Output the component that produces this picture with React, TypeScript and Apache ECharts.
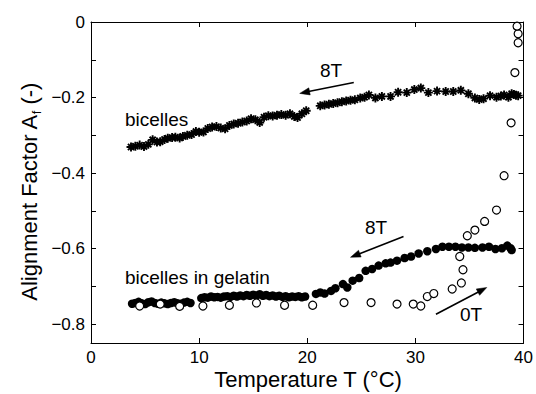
import React, { useEffect, useRef } from "react";
import * as echarts from "echarts";

// ---- data ----
const starsT = [3.7, 4.1, 4.5, 4.9, 5.3, 5.7, 6.1, 6.4, 6.8, 7.1, 7.5, 7.8, 8.2, 8.5, 8.9, 9.3, 9.7, 10.0, 10.4, 10.8, 11.2, 11.6, 12.0, 12.4, 12.8, 13.2, 13.6, 14.0, 14.4, 14.8, 15.2, 15.6, 16.0, 16.4, 16.8, 17.2, 17.6, 18.0, 18.4, 18.8, 19.1, 19.5, 19.9, 21.2, 21.6, 22.0, 22.4, 22.8, 23.2, 23.6, 24.0, 24.4, 24.9, 25.3, 25.7, 26.3, 26.9, 27.7, 28.4, 29.2, 29.9, 30.5, 31.2, 32.0, 32.8, 33.5, 34.2, 34.9, 35.5, 35.9, 36.3, 36.9, 37.5, 37.9, 38.2, 38.6, 38.9, 39.1, 39.3, 39.5];
const starsA = [-0.331, -0.329, -0.326, -0.330, -0.324, -0.312, -0.318, -0.317, -0.311, -0.308, -0.306, -0.305, -0.307, -0.303, -0.300, -0.298, -0.290, -0.292, -0.291, -0.282, -0.278, -0.277, -0.281, -0.283, -0.274, -0.270, -0.268, -0.265, -0.262, -0.256, -0.259, -0.266, -0.252, -0.248, -0.249, -0.247, -0.245, -0.247, -0.243, -0.250, -0.253, -0.243, -0.235, -0.222, -0.220, -0.218, -0.216, -0.214, -0.211, -0.209, -0.207, -0.206, -0.201, -0.199, -0.193, -0.201, -0.197, -0.197, -0.186, -0.187, -0.179, -0.175, -0.187, -0.183, -0.184, -0.184, -0.181, -0.190, -0.201, -0.205, -0.203, -0.195, -0.199, -0.196, -0.193, -0.199, -0.190, -0.192, -0.194, -0.195];

const gel8T_T = [3.8, 4.1, 4.4, 4.7, 5.0, 5.3, 5.6, 5.9, 6.2, 6.5, 6.8, 7.1, 7.4, 7.7, 8.0, 8.3, 8.6, 8.9, 9.2,
  10.2, 10.5, 10.8, 11.1, 11.4, 11.7, 12.0, 12.3, 12.6, 12.9, 13.2, 13.5, 13.8, 14.1, 14.4, 14.7, 15.0, 15.3, 15.6, 15.9, 16.2, 16.5, 16.8, 17.1, 17.4, 17.7, 18.0, 18.3, 18.6, 18.9, 19.2, 19.5, 19.8,
  20.8, 21.2, 21.6, 22.2, 22.6, 23.3, 23.7, 24.2, 24.8, 25.4, 26.0, 26.6, 27.25, 27.7, 28.3, 29.0, 29.6, 30.3, 31.1, 31.9, 32.5, 33.1, 33.7, 34.3, 34.9, 35.5, 36.2, 36.8, 37.4, 38.0, 38.5, 38.8, 38.9];
const gel8T_A = [-0.746, -0.744, -0.741, -0.745, -0.747, -0.742, -0.740, -0.744, -0.746, -0.743, -0.745, -0.747, -0.744, -0.742, -0.745, -0.746, -0.743, -0.741, -0.744,
  -0.731, -0.729, -0.730, -0.727, -0.729, -0.728, -0.730, -0.727, -0.726, -0.728, -0.725, -0.727, -0.724, -0.726, -0.723, -0.725, -0.722, -0.724, -0.721, -0.725, -0.723, -0.726, -0.724, -0.727, -0.725, -0.728, -0.726, -0.729, -0.727, -0.728, -0.726, -0.729, -0.727,
  -0.720, -0.716, -0.719, -0.712, -0.705, -0.694, -0.703, -0.685, -0.678, -0.659, -0.654, -0.645, -0.639, -0.637, -0.632, -0.625, -0.621, -0.613, -0.607, -0.601, -0.595, -0.595, -0.595, -0.597, -0.597, -0.598, -0.597, -0.595, -0.601, -0.599, -0.592, -0.599, -0.604];

const gel0T_T = [4.5, 6.4, 8.2, 10.35, 12.8, 15.3, 17.9, 20.5, 23.4, 25.9, 28.3, 29.8, 30.5, 31.1, 31.7, 33.4, 34.25, 34.4, 34.1, 34.8, 35.5, 36.4, 37.5, 38.2, 38.85, 39.2, 39.5, 39.5, 39.4];
const gel0T_A = [-0.752, -0.747, -0.753, -0.752, -0.750, -0.744, -0.750, -0.750, -0.743, -0.743, -0.747, -0.747, -0.752, -0.727, -0.719, -0.707, -0.691, -0.656, -0.621, -0.566, -0.551, -0.528, -0.498, -0.407, -0.267, -0.134, -0.055, -0.031, -0.011];

const xTicks = [0, 10, 20, 30, 40];
const yLabelValues = [-0.8, -0.6, -0.4, -0.2, 0];
const yTickValues = [-0.8, -0.7, -0.6, -0.5, -0.4, -0.3, -0.2, -0.1, 0];

// arrows (data coords): [startT, startA, tipT, tipA]
const arrows = [
  [24.3, -0.160, 19.3, -0.189],
  [28.9, -0.568, 24.0, -0.623],
  [31.9, -0.774, 36.6, -0.703],
];

const FONT = "'Liberation Sans', Arial, Helvetica, sans-serif";

const zip = (xs: number[], ys: number[]) => xs.map((x, i) => [x, ys[i]]);

const asterisk = "path://M5 0 L5 10 M0 5 L10 5 M1.6 1.6 L8.4 8.4 M1.6 8.4 L8.4 1.6";

export default function App() {
  const ref = useRef<HTMLDivElement>(null);
  useEffect(() => {
    const chart = echarts.init(ref.current!, null, { renderer: "svg" });
    const axisCommon = {
      axisLine: { show: true, onZero: false, lineStyle: { color: "#000", width: 1 } },
      splitLine: { show: false },
    };
    const option: any = {
      animation: false,
      backgroundColor: "#fff",
      grid: { left: 91, right: 11, top: 22, bottom: 51, containLabel: false },
      xAxis: [
        {
          type: "value", min: 0, max: 40, interval: 10, position: "bottom",
          ...axisCommon,
          axisTick: { inside: true, length: 5, lineStyle: { color: "#000" } },
          axisLabel: { color: "#000", fontSize: 17, fontFamily: FONT, margin: 6, customValues: xTicks },
        },
        {
          type: "value", min: 0, max: 40, interval: 10, position: "top",
          ...axisCommon,
          axisTick: { inside: true, length: 5, lineStyle: { color: "#000" } },
          axisLabel: { show: false },
        },
      ],
      yAxis: [
        {
          type: "value", min: -0.85, max: 0, position: "left",
          ...axisCommon,
          axisTick: { inside: true, length: 5, customValues: yTickValues, lineStyle: { color: "#000" } },
          axisLabel: {
            color: "#000", fontSize: 17, fontFamily: FONT, margin: 6, customValues: yLabelValues,
            formatter: (v: number) => (Math.abs(v) < 1e-9 ? "0" : v.toFixed(1).replace("-", "\u2212")),
          },
        },
        {
          type: "value", min: -0.85, max: 0, position: "right",
          ...axisCommon,
          axisTick: { inside: true, length: 5, customValues: yTickValues, lineStyle: { color: "#000" } },
          axisLabel: { show: false },
        },
      ],
      series: [
        {
          name: "bicelles 8T", type: "scatter", xAxisIndex: 0, yAxisIndex: 0,
          data: zip(starsT, starsA), symbol: asterisk, symbolSize: 9,
          itemStyle: { color: "#000", borderColor: "#000", borderWidth: 1.9, opacity: 1 },
        },
        {
          name: "gelatin 8T", type: "scatter", xAxisIndex: 0, yAxisIndex: 0,
          data: zip(gel8T_T, gel8T_A), symbol: "circle", symbolSize: 8.5,
          itemStyle: { color: "#000", opacity: 1 },
        },
        {
          name: "gelatin 0T", type: "scatter", xAxisIndex: 0, yAxisIndex: 0,
          data: zip(gel0T_T, gel0T_A), symbol: "circle", symbolSize: 8,
          itemStyle: { color: "#fff", borderColor: "#000", borderWidth: 1.2, opacity: 1 },
        },
      ],
    };
    chart.setOption(option);

    const textEl = (x: number, y: number, text: string, align = "center", size = 19) => ({
      type: "text", x, y,
      style: { text, font: `${size}px ${FONT}`, fill: "#000", textAlign: align, textVerticalAlign: "middle" },
    });

    const arrowEls: any[] = [];
    arrows.forEach((a) => {
      const p0 = chart.convertToPixel({ xAxisIndex: 0, yAxisIndex: 0 }, [a[0], a[1]]) as number[];
      const p1 = chart.convertToPixel({ xAxisIndex: 0, yAxisIndex: 0 }, [a[2], a[3]]) as number[];
      const dx = p1[0] - p0[0];
      const dy = p1[1] - p0[1];
      const len = Math.hypot(dx, dy);
      const ux = dx / len;
      const uy = dy / len;
      const headL = 10;
      const headW = 3.6;
      const bx = p1[0] - ux * headL;
      const by = p1[1] - uy * headL;
      arrowEls.push({
        type: "line",
        shape: { x1: p0[0], y1: p0[1], x2: bx + ux * 1, y2: by + uy * 1 },
        style: { stroke: "#000", lineWidth: 1.6 },
        silent: true,
      });
      arrowEls.push({
        type: "polygon",
        shape: {
          points: [
            [p1[0], p1[1]],
            [bx - uy * headW, by + ux * headW],
            [bx + uy * headW, by - ux * headW],
          ],
        },
        style: { fill: "#000", stroke: "#000", lineWidth: 0.5 },
        silent: true,
      });
    });

    chart.setOption({
      graphic: [
        textEl(125, 119, "bicelles", "left"),
        textEl(125, 277, "bicelles in gelatin", "left"),
        textEl(331, 70, "8T"),
        textEl(376, 227, "8T"),
        textEl(471, 314, "0T"),
        textEl(308, 379, "Temperature T (\u00B0C)", "center", 22),
        {
          type: "text", x: 29, y: 192, rotation: Math.PI / 2,
          style: {
            text: "{n|Alignment Factor A}{s|f}{n| (-)}",
            textAlign: "center", textVerticalAlign: "middle", fill: "#000",
            rich: {
              n: { fontSize: 22, fontFamily: FONT, lineHeight: 28, verticalAlign: "middle", fill: "#000" },
              s: { fontSize: 13, fontFamily: FONT, lineHeight: 13, verticalAlign: "bottom", fill: "#000" },
            },
          },
        },
        ...arrowEls,
      ],
    });
    return () => chart.dispose();
  }, []);
  return <div ref={ref} style={{ position: "fixed", left: 0, top: 0, width: 536, height: 394 }} />;
}
